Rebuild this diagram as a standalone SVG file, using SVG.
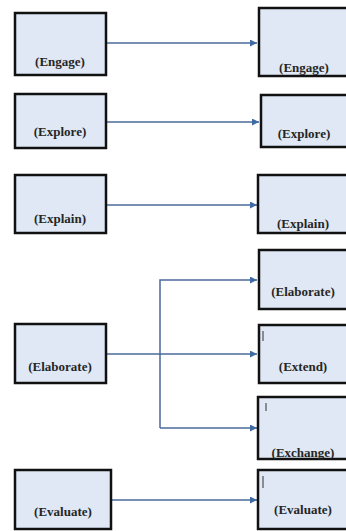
<svg xmlns="http://www.w3.org/2000/svg" width="346" height="531" viewBox="0 0 346 531">
<style>
.box{fill:#dfe8f4;stroke:#111;stroke-width:2.5}
.lbl{font-family:"Liberation Serif",serif;font-weight:bold;font-size:13px;fill:#262626;text-anchor:middle}
.con{fill:none;stroke:#4a6a9a;stroke-width:1.5}
.tick{stroke:#333;stroke-width:1}
</style>
<defs>
<marker id="ah" viewBox="0 0 10 10" refX="10" refY="5" markerWidth="7" markerHeight="7" orient="auto" markerUnits="userSpaceOnUse">
<path d="M0,0 L10,5 L0,10 z" fill="#3f6aa3"/>
</marker>
</defs>
<rect width="346" height="531" fill="#fff"/>
<g id="connectors">
<path class="con" d="M106,43 H257" marker-end="url(#ah)"/>
<path class="con" d="M106,122 H259" marker-end="url(#ah)"/>
<path class="con" d="M106,205 H257" marker-end="url(#ah)"/>
<path class="con" d="M106,354 H257" marker-end="url(#ah)"/>
<path class="con" d="M160,428 V280 H257" marker-end="url(#ah)"/>
<path class="con" d="M160,428 H257" marker-end="url(#ah)"/>
<path class="con" d="M112,500 H257" marker-end="url(#ah)"/>
</g>
<g id="l-engage"><rect class="box" x="15" y="13" width="91" height="62"/><text class="lbl" x="60" y="66">(Engage)</text></g>
<g id="l-explore"><rect class="box" x="15" y="94" width="91" height="54"/><text class="lbl" x="60" y="136">(Explore)</text></g>
<g id="l-explain"><rect class="box" x="15" y="175" width="91" height="58"/><text class="lbl" x="60" y="223">(Explain)</text></g>
<g id="l-elaborate"><rect class="box" x="15" y="324" width="91" height="59"/><text class="lbl" x="60" y="371">(Elaborate)</text></g>
<g id="l-evaluate"><rect class="box" x="15" y="470" width="96" height="59"/><text class="lbl" x="63" y="516">(Evaluate)</text></g>
<g id="r-engage"><rect class="box" x="259" y="8" width="90" height="68"/><text class="lbl" x="304" y="72">(Engage)</text></g>
<g id="r-explore"><rect class="box" x="261" y="95" width="88" height="52"/><text class="lbl" x="304" y="138">(Explore)</text></g>
<g id="r-explain"><rect class="box" x="258" y="175" width="91" height="58"/><text class="lbl" x="303" y="228">(Explain)</text></g>
<g id="r-elaborate"><rect class="box" x="259" y="250" width="90" height="59"/><text class="lbl" x="303" y="296">(Elaborate)</text></g>
<g id="r-extend"><rect class="box" x="259" y="325" width="90" height="58"/><line class="tick" x1="263" y1="331" x2="263" y2="341"/><text class="lbl" x="303" y="371">(Extend)</text></g>
<g id="r-exchange"><rect class="box" x="258" y="397" width="91" height="62"/><line class="tick" x1="266" y1="403" x2="266" y2="411"/><text class="lbl" x="303" y="457">(Exchange)</text></g>
<g id="r-evaluate"><rect class="box" x="258" y="470" width="91" height="59"/><line class="tick" x1="263" y1="476" x2="263" y2="488"/><text class="lbl" x="303" y="514">(Evaluate)</text></g>
</svg>
